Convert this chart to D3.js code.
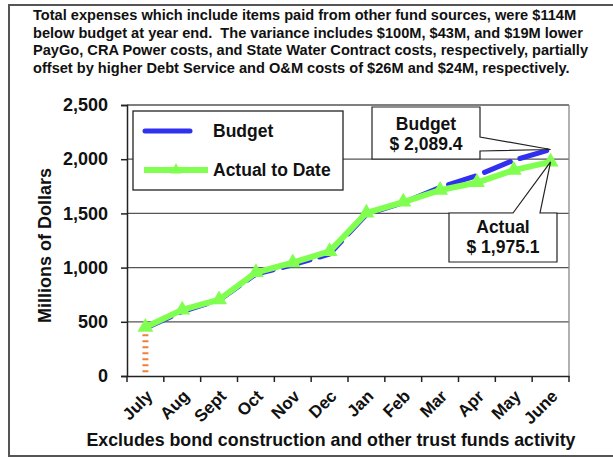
<!DOCTYPE html>
<html>
<head>
<meta charset="utf-8">
<script src="https://cdn.jsdelivr.net/npm/d3@7"></script>
<style>
  body { margin: 0; background: #fff; }
  svg text { font-family: "Liberation Sans", Arial, sans-serif; font-weight: bold; fill: #111; }
</style>
</head>
<body>
<svg id="chart" width="613" height="459"></svg>
<script>
// data
var months = ['July', 'Aug', 'Sept', 'Oct', 'Nov', 'Dec', 'Jan', 'Feb', 'Mar', 'Apr', 'May', 'June']
var budget = [440, 595, 700, 940, 1025, 1125, 1490, 1600, 1740, 1850, 1990, 2089.4]
var actual = [450, 610, 705, 955, 1045, 1150, 1505, 1605, 1715, 1785, 1900, 1975.1]
var yTicks = [0, 500, 1000, 1500, 2000, 2500]
var noteLines = [
  'Total expenses which include items paid from other fund sources, were $114M',
  'below budget at year end.  The variance includes $100M, $43M, and $19M lower',
  'PayGo, CRA Power costs, and State Water Contract costs, respectively, partially',
  'offset by higher Debt Service and O&M costs of $26M and $24M, respectively.'
]

var svg = d3.select('#chart')
var plotL = 127, plotR = 569, plotT = 105, plotB = 376

// outer frame
svg.append('rect').attr('x', 9).attr('y', 5).attr('width', 640).attr('height', 451)
  .attr('fill', 'none').attr('stroke', '#555').attr('stroke-width', 2)

// note text
svg.append('g').selectAll('text').data(noteLines).join('text')
  .attr('x', 33).attr('y', function(d, i) { return 20 + i * 17.5 })
  .style('font-size', '14.6px').style('white-space', 'pre')
  .text(function(d) { return d })

var x = d3.scaleBand().domain(months).range([plotL, plotR])
var y = d3.scaleLinear().domain([0, 2500]).range([plotB, plotT])

// gridlines
svg.append('g').selectAll('line').data(yTicks.slice(1)).join('line')
  .attr('x1', plotL).attr('x2', plotR)
  .attr('y1', function(d) { return y(d) }).attr('y2', function(d) { return y(d) })
  .attr('stroke', '#555').attr('stroke-width', 1.3)
svg.append('line').attr('x1', plotR).attr('x2', plotR).attr('y1', plotT).attr('y2', plotB)
  .attr('stroke', '#888').attr('stroke-width', 1.3)

// axes
var yAxis = svg.append('g').attr('transform', 'translate(' + plotL + ',0)')
  .call(d3.axisLeft(y).tickValues(yTicks).tickSize(6).tickPadding(13).tickFormat(d3.format(',')))
yAxis.selectAll('text').style('font-size', '18px')
yAxis.selectAll('line, path').attr('stroke', '#222').attr('stroke-width', 1.5)

var xAxis = svg.append('g').attr('transform', 'translate(0,' + plotB + ')')
  .call(d3.axisBottom(x).tickSize(0).tickFormat(''))
xAxis.select('path').attr('stroke', '#222').attr('stroke-width', 1.5)
svg.append('g').selectAll('line').data(d3.range(13)).join('line')
  .attr('x1', function(i) { return plotL + i * x.step() }).attr('x2', function(i) { return plotL + i * x.step() })
  .attr('y1', plotB).attr('y2', plotB + 6).attr('stroke', '#222').attr('stroke-width', 1.5)

svg.append('g').selectAll('text').data(months).join('text')
  .attr('transform', function(d) { return 'translate(' + (x(d) + x.bandwidth() / 2 + 4) + ',' + (plotB + 17) + ') rotate(-45)' })
  .attr('text-anchor', 'end').attr('dy', '0.35em')
  .style('font-size', '17px')
  .text(function(d) { return d })

// y title
svg.append('text').attr('transform', 'translate(51,' + ((plotT + plotB) / 2 + 5) + ') rotate(-90)')
  .attr('text-anchor', 'middle').style('font-size', '18px').text('Millions of Dollars')

// caption
svg.append('text').attr('x', 331).attr('y', 446).attr('text-anchor', 'middle')
  .style('font-size', '17.8px').text('Excludes bond construction and other trust funds activity')

var cx = function(d, i) { return x(months[i]) + x.bandwidth() / 2 }

// orange drop line at July
svg.append('line').attr('x1', cx(0, 0)).attr('x2', cx(0, 0))
  .attr('y1', y(actual[0]) + 7).attr('y2', plotB)
  .attr('stroke', '#f0803a').attr('stroke-width', 6).attr('stroke-dasharray', '2,4')

// budget line
svg.append('path').datum(budget)
  .attr('d', d3.line().x(cx).y(function(d) { return y(d) }))
  .attr('fill', 'none').attr('stroke', '#3030f0').attr('stroke-width', 5)
  .attr('stroke-linecap', 'round').attr('stroke-dasharray', '28,10')

// actual line
svg.append('path').datum(actual)
  .attr('d', d3.line().x(cx).y(function(d) { return y(d) }))
  .attr('fill', 'none').attr('stroke', '#80ff50').attr('stroke-width', 6)
svg.append('g').selectAll('path').data(actual).join('path')
  .attr('transform', function(d, i) { return 'translate(' + cx(d, i) + ',' + y(d) + ')' })
  .attr('d', d3.symbol(d3.symbolTriangle, 110))
  .attr('fill', '#80ff50')

// legend
svg.append('rect').attr('x', 133).attr('y', 111).attr('width', 210).attr('height', 79)
  .attr('fill', '#fff').attr('stroke', '#222').attr('stroke-width', 1.3)
svg.append('line').attr('x1', 145).attr('x2', 190).attr('y1', 131).attr('y2', 131)
  .attr('stroke', '#3030f0').attr('stroke-width', 5).attr('stroke-linecap', 'round')
svg.append('line').attr('x1', 144).attr('x2', 208).attr('y1', 170).attr('y2', 170)
  .attr('stroke', '#80ff50').attr('stroke-width', 6)
svg.append('path').attr('transform', 'translate(176,170)')
  .attr('d', d3.symbol(d3.symbolTriangle, 60)).attr('fill', '#80ff50')
svg.append('text').attr('x', 213).attr('y', 137).style('font-size', '17.5px').text('Budget')
svg.append('text').attr('x', 213).attr('y', 176).style('font-size', '17.5px').text('Actual to Date')

// callouts
var bx = cx(0, 11), byB = y(budget[11]), byA = y(actual[11])
svg.append('path')
  .attr('d', 'M372,107 L480,107 L480,137 L' + bx + ',' + byB + ' L480,151 L480,159 L372,159 Z')
  .attr('fill', '#fff').attr('stroke', '#222').attr('stroke-width', 1.2)
svg.append('text').attr('x', 426).attr('y', 130).attr('text-anchor', 'middle').style('font-size', '17.5px').text('Budget')
svg.append('text').attr('x', 426).attr('y', 150).attr('text-anchor', 'middle').style('font-size', '17.5px').text('$ 2,089.4')

svg.append('path')
  .attr('d', 'M449,213 L513,213 L' + bx + ',' + byA + ' L540,213 L557,213 L557,262 L449,262 Z')
  .attr('fill', '#fff').attr('stroke', '#222').attr('stroke-width', 1.2)
svg.append('text').attr('x', 503).attr('y', 233).attr('text-anchor', 'middle').style('font-size', '17.5px').text('Actual')
svg.append('text').attr('x', 503).attr('y', 253).attr('text-anchor', 'middle').style('font-size', '17.5px').text('$ 1,975.1')
</script>
</body>
</html>
